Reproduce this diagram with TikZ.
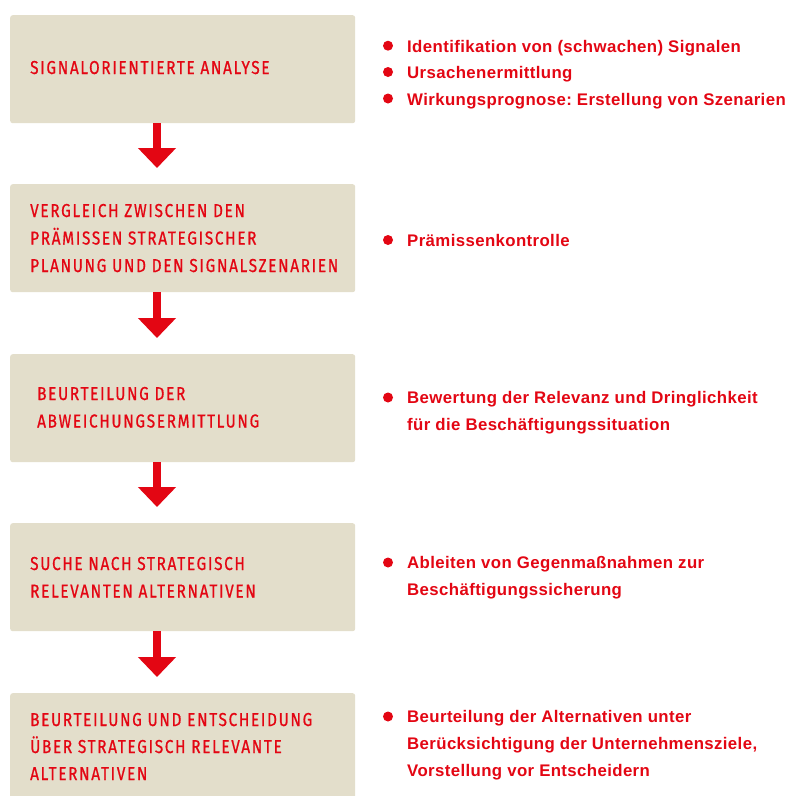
\documentclass[tikz,border=0pt]{standalone}
\usepackage{fontspec}
\setmainfont{Liberation Sans}[LetterSpace=2.3]
\newfontfamily\boxfont[FakeStretch=0.82,LetterSpace=9,FakeBold=0.8]{Fira Sans}
\usetikzlibrary{arrows.meta}
\definecolor{beige}{RGB}{227,222,203}
\definecolor{dred}{RGB}{227,6,19}
\tikzset{
  box/.style={fill=beige, draw=none, rounded corners=2.5pt, minimum width=345pt, minimum height=108pt, anchor=north west, inner sep=0pt},
  boxtxt/.style={anchor=base west, inner sep=0pt, text=dred, font=\boxfont\fontsize{18.7}{20}\selectfont},
  listtxt/.style={anchor=base west, inner sep=0pt, text=dred, font=\bfseries\fontsize{16.8}{20}\selectfont},
  dot/.style={circle, fill=dred, minimum size=10pt, inner sep=0pt},
  flow/.style={draw=dred, line width=8pt, -{Triangle[width=37pt,length=20pt]}, shorten >=16pt}
}
\begin{document}
\frenchspacing
\begin{tikzpicture}[x=1pt,y=1pt]
\useasboundingbox (0,0) rectangle (787,-796);
% boxes
\node[box] (b1) at (10,-15) {};
\node[box] (b2) at (10,-184) {};
\node[box] (b3) at (10,-354) {};
\node[box] (b4) at (10,-523) {};
\node[box, minimum height=115pt] (b5) at (10,-693) {};
% arrows
\coordinate (ax) at (157,0);
\draw[flow] (b1.south -| ax) -- (b2.north -| ax);
\draw[flow] (b2.south -| ax) -- (b3.north -| ax);
\draw[flow] (b3.south -| ax) -- (b4.north -| ax);
\draw[flow] (b4.south -| ax) -- (b5.north -| ax);
% box texts
\node[boxtxt] (t1a) at (30,-74) {SIGNALORIENTIERTE ANALYSE};
\node[boxtxt] (t2a) at (30,-217) {VERGLEICH ZWISCHEN DEN};
\node[boxtxt] (t2b) at (30,-244.5) {PRÄMISSEN STRATEGISCHER};
\node[boxtxt] (t2c) at (30,-272) {PLANUNG UND DEN SIGNALSZENARIEN};
\node[boxtxt] (t3a) at (37,-400) {BEURTEILUNG DER};
\node[boxtxt] (t3b) at (37,-427.5) {ABWEICHUNGSERMITTLUNG};
\node[boxtxt] (t4a) at (30,-570) {SUCHE NACH STRATEGISCH};
\node[boxtxt] (t4b) at (30,-597.5) {RELEVANTEN ALTERNATIVEN};
\node[boxtxt] (t5a) at (30,-726) {BEURTEILUNG UND ENTSCHEIDUNG};
\node[boxtxt] (t5b) at (30,-753) {ÜBER STRATEGISCH RELEVANTE};
\node[boxtxt] (t5c) at (30,-780) {ALTERNATIVEN};
% lists
\node[dot] (d1a) at (388,-45.7) {};
\node[dot] (d1b) at (388,-72) {};
\node[dot] (d1c) at (388,-98.5) {};
\node[listtxt] (l1a) at (407,-52) {Identifikation von (schwachen) Signalen};
\node[listtxt] (l1b) at (407,-78.5) {Ursachenermittlung};
\node[listtxt] (l1c) at (407,-105) {Wirkungsprognose: Erstellung von Szenarien};
\node[dot] (d2) at (388,-240) {};
\node[listtxt] (l2a) at (407,-246.3) {Prämissenkontrolle};
\node[dot] (d3) at (388,-397.5) {};
\node[listtxt] (l3a) at (407,-403.5) {Bewertung der Relevanz und Dringlichkeit};
\node[listtxt] (l3b) at (407,-430.5) {für die Beschäftigungssituation};
\node[dot] (d4) at (388,-562.5) {};
\node[listtxt] (l4a) at (407,-568.5) {Ableiten von Gegenmaßnahmen zur};
\node[listtxt] (l4b) at (407,-595.3) {Beschäftigungssicherung};
\node[dot] (d5) at (388,-716.5) {};
\node[listtxt] (l5a) at (407,-722.5) {Beurteilung der Alternativen unter};
\node[listtxt] (l5b) at (407,-749.3) {Berücksichtigung der Unternehmensziele,};
\node[listtxt] (l5c) at (407,-776) {Vorstellung vor Entscheidern};
\end{tikzpicture}
\end{document}
